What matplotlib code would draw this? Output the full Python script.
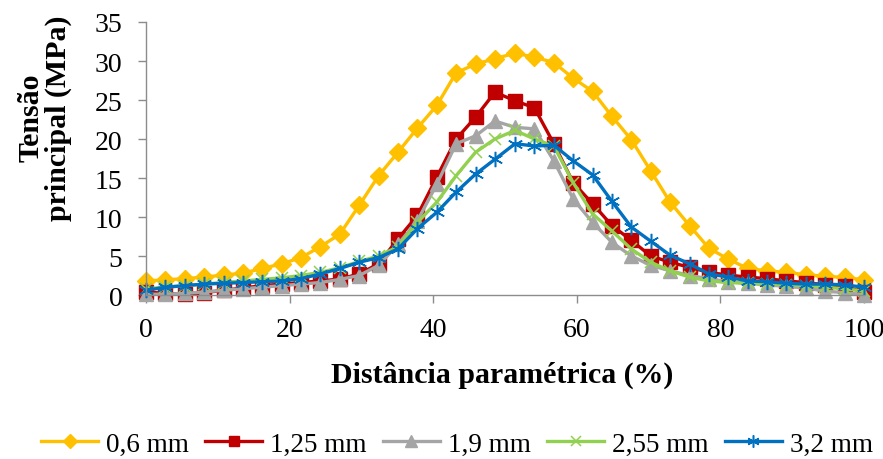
import matplotlib
matplotlib.use("Agg")
import matplotlib.pyplot as plt

plt.rcParams['font.family'] = ['Liberation Serif', 'DejaVu Serif']

# parametric distance (%), 38 equally spaced stations
dist = [0, 2.7, 5.4, 8.1, 10.8, 13.5, 16.2, 18.9, 21.6, 24.3, 27.0, 29.7, 32.4,
        35.1, 37.8, 40.5, 43.2, 45.9, 48.6, 51.4, 54.1, 56.8, 59.5, 62.2, 64.9,
        67.6, 70.3, 73.0, 75.7, 78.4, 81.1, 83.8, 86.5, 89.2, 91.9, 94.6, 97.3, 100]

s_06 = [1.8, 1.95, 2.1, 2.3, 2.55, 2.8, 3.4, 4.0, 4.8, 6.2, 7.8, 11.5, 15.3,
        18.3, 21.4, 24.3, 28.5, 29.6, 30.3, 31.0, 30.5, 29.8, 27.8, 26.1, 22.9,
        19.9, 15.9, 11.9, 8.9, 6.0, 4.6, 3.4, 3.1, 2.9, 2.6, 2.4, 2.25, 1.95]
s_125 = [0.4, 0.2, 0.1, 0.3, 0.6, 0.9, 1.2, 1.4, 1.6, 1.8, 2.05, 2.7, 4.0,
         7.2, 10.2, 15.1, 20.0, 22.8, 26.0, 24.9, 24.0, 19.4, 14.4, 11.7, 8.9,
         7.0, 5.0, 4.2, 3.55, 2.9, 2.55, 2.3, 2.1, 1.8, 1.6, 1.3, 1.1, 0.35]
s_19 = [0.1, 0.1, 0.2, 0.4, 0.6, 0.8, 1.0, 1.2, 1.4, 1.6, 2.0, 2.5, 3.8,
        6.5, 9.5, 14.2, 19.4, 20.4, 22.3, 21.5, 21.3, 17.2, 12.3, 9.3, 6.75,
        5.0, 3.8, 3.1, 2.5, 2.1, 1.7, 1.5, 1.3, 1.1, 0.9, 0.5, 0.3, 0.05]
s_255 = [0.8, 1.0, 1.2, 1.4, 1.6, 1.8, 2.0, 2.2, 2.5, 2.9, 3.5, 4.3, 5.0,
         6.2, 9.3, 11.9, 15.3, 18.3, 20.0, 21.1, 20.0, 19.1, 14.4, 10.4, 8.2,
         5.9, 4.2, 3.1, 2.3, 1.8, 1.6, 1.5, 1.4, 1.3, 1.2, 1.0, 0.8, 0.5]
s_32 = [0.6, 1.0, 1.2, 1.4, 1.5, 1.6, 1.7, 1.8, 2.1, 2.7, 3.4, 4.2, 4.8,
        5.9, 8.5, 10.6, 13.2, 15.5, 17.4, 19.4, 19.1, 19.2, 17.2, 15.4, 12.0,
        8.7, 6.9, 5.1, 4.0, 2.7, 2.3, 1.8, 1.7, 1.5, 1.4, 1.4, 1.3, 1.0]

labels = ['0,6 mm', '1,25 mm', '1,9 mm', '2,55 mm', '3,2 mm']

fig = plt.figure(figsize=(8.83, 4.6), dpi=100)
ax = fig.add_axes([0.1653, 0.3565, 0.8132, 0.5935])

lw = 2.4
ax.plot(dist, s_06, color='#FFC000', lw=lw, marker='D', ms=9, clip_on=False, label=labels[0])
ax.plot(dist, s_125, color='#C00000', lw=lw, marker='s', ms=9.5, clip_on=False, label=labels[1])
ax.plot(dist, s_19, color='#A5A5A5', lw=lw, marker='^', ms=10, clip_on=False, label=labels[2])
ax.plot(dist, s_255, color='#92D050', lw=lw, marker='x', ms=8.5, mew=1.1, clip_on=False, label=labels[3])
ax.plot(dist, s_32, color='#0070C0', lw=lw, marker=(6, 2, 0), ms=11, mew=1.1, clip_on=False, label=labels[4])

ax.set_xlim(0, 100)
ax.set_ylim(0, 35)
ax.set_xticks(range(0, 101, 20))
ax.set_yticks(range(0, 36, 5))

for side in ['top', 'right']:
    ax.spines[side].set_visible(False)
for side in ['left', 'bottom']:
    ax.spines[side].set_color('#8C8C8C')
    ax.spines[side].set_linewidth(1.0)
ax.tick_params(axis='both', direction='out', length=6, width=1.0, color='#8C8C8C',
               labelsize=20, labelcolor='black')
ax.tick_params(axis='y', pad=11)
ax.tick_params(axis='x', pad=10)

fig.text(502 / 883, 1 - 375 / 460, 'Distância paramétrica (%)', ha='center', va='center',
         fontsize=21.5, fontweight='bold')
fig.text(45 / 883, 1 - 118 / 460, 'Tensão\nprincipal (MPa)', ha='center', va='center',
         rotation=90, fontsize=21.5, fontweight='bold', multialignment='center', linespacing=1.0)

fig.legend(loc='center', bbox_to_anchor=(457 / 883, 1 - 445 / 460), ncol=5, frameon=False,
           fontsize=19.5, handlelength=2.1, handletextpad=0.3, columnspacing=0.6,
           borderaxespad=0, borderpad=0, markerscale=0.8)

fig.savefig('out.png', dpi=100)
